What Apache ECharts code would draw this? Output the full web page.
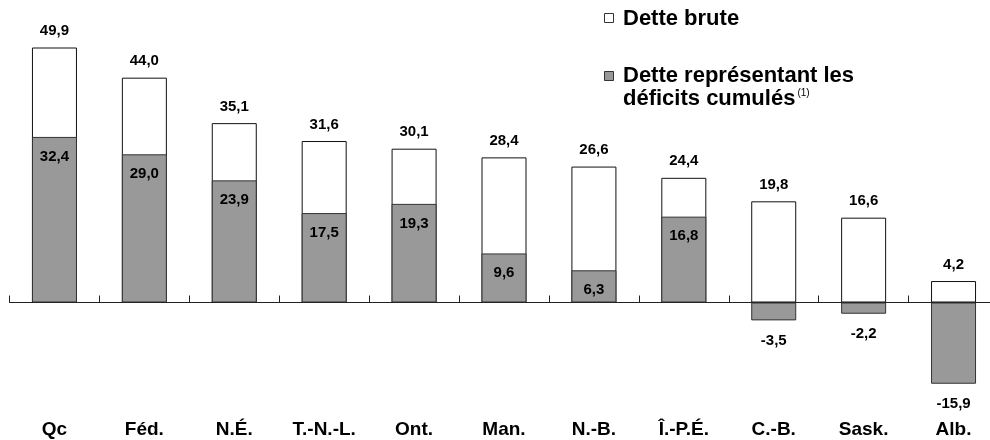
<!DOCTYPE html>
<html>
<head>
<meta charset="utf-8">
<script src="https://cdn.jsdelivr.net/npm/echarts@6/dist/echarts.min.js"></script>
<style>html,body{margin:0;padding:0;background:#fff}#c{width:990px;height:440px}</style>
</head>
<body>
<div id="c"></div>
<script>
var categories = ['Qc', 'Féd.', 'N.É.', 'T.-N.-L.', 'Ont.', 'Man.', 'N.-B.', 'Î.-P.É.', 'C.-B.', 'Sask.', 'Alb.'];
var detteBrute = [49.9, 44.0, 35.1, 31.6, 30.1, 28.4, 26.6, 24.4, 19.8, 16.6, 4.2];
var deficitsCumules = [32.4, 29.0, 23.9, 17.5, 19.3, 9.6, 6.3, 16.8, -3.5, -2.2, -15.9];
var legendNames = ['Dette brute', 'Dette représentant les', 'déficits cumulés', '(1)'];

var FONT = '"Liberation Sans", Arial, sans-serif';
function fmt(v) { return v.toFixed(1).replace('.', ','); }

var greyData = deficitsCumules.map(function (v) {
  return {
    value: v,
    label: v >= 0 ? { position: 'insideTop', distance: 12 } : { position: 'bottom', distance: 13 }
  };
});

var chart = echarts.init(document.getElementById('c'), null, { renderer: 'canvas' });
chart.setOption({
  animation: false,
  backgroundColor: '#ffffff',
  grid: { left: 9.5, width: 989, top: 47, bottom: 35.3, containLabel: false, outerBoundsMode: 'none' },
  xAxis: {
    type: 'category',
    data: categories,
    boundaryGap: true,
    axisLine: { onZero: true, lineStyle: { color: '#222', width: 1 } },
    axisTick: { show: true, inside: true, length: 7, lineStyle: { color: '#222' } },
    axisLabel: { margin: 16, color: '#000', fontSize: 19, fontWeight: 'bold', fontFamily: FONT, interval: 0 },
    splitLine: { show: false }
  },
  yAxis: {
    type: 'value', min: -20, max: 50, show: false, splitLine: { show: false }
  },
  series: [
    {
      name: legendNames[0],
      type: 'bar',
      data: detteBrute,
      barWidth: 45,
      barGap: '-100%',
      itemStyle: { color: '#ffffff', borderColor: '#111', borderWidth: 1 },
      label: {
        show: true, position: 'top', distance: 9,
        color: '#000', fontSize: 15, fontWeight: 'bold', fontFamily: FONT,
        formatter: function (p) { return fmt(p.value); }
      },
      z: 2
    },
    {
      name: legendNames[1],
      type: 'bar',
      data: greyData,
      barWidth: 45,
      barGap: '-100%',
      itemStyle: { color: '#999999', borderColor: '#333', borderWidth: 1 },
      label: {
        show: true,
        color: '#000', fontSize: 15, fontWeight: 'bold', fontFamily: FONT,
        formatter: function (p) { return fmt(p.value); }
      },
      z: 3
    }
  ],
  graphic: [
    { type: 'rect', shape: { x: 604.5, y: 13.5, width: 9, height: 9 }, style: { fill: '#fff', stroke: '#333', lineWidth: 1 } },
    { type: 'text', x: 623, y: 19, style: { text: legendNames[0], font: 'bold 22px ' + FONT, fill: '#000', verticalAlign: 'middle' } },
    { type: 'rect', shape: { x: 604.5, y: 71.5, width: 9, height: 9 }, style: { fill: '#999999', stroke: '#333', lineWidth: 1 } },
    { type: 'text', x: 623, y: 76, style: { text: legendNames[1], font: 'bold 22px ' + FONT, fill: '#000', verticalAlign: 'middle' } },
    { type: 'text', x: 623, y: 99, style: {
        text: '{a|' + legendNames[2] + '}{s|' + legendNames[3] + '}',
        verticalAlign: 'middle',
        rich: {
          a: { font: 'bold 22px ' + FONT, fill: '#000', color: '#000' },
          s: { fontSize: 10, fontFamily: FONT, color: '#000', verticalAlign: 'top', padding: [0, 0, 10, 2] }
        }
      } }
  ]
});
</script>
</body>
</html>
